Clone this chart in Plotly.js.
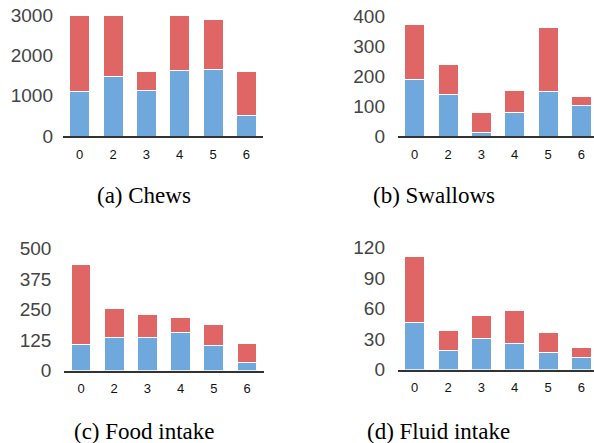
<!DOCTYPE html>
<html>
<head>
<meta charset="utf-8">
<script src="https://cdn.plot.ly/plotly-3.0.1.min.js"></script>
<style>html,body{margin:0;padding:0;background:#fff;}#chart{width:594px;height:443px;}</style>
</head>
<body>
<div id="chart"></div>
<script>
const categories = ['0', '2', '3', '4', '5', '6'];

const chewsBlue = [1100, 1470, 1140, 1630, 1660, 500];
const chewsTotal = [3000, 3000, 1610, 3000, 2900, 1610];

const swallowsBlue = [190, 140, 12, 78, 148, 103];
const swallowsTotal = [372, 240, 77, 153, 363, 132];

const foodBlue = [108, 134, 134, 158, 102, 34];
const foodTotal = [435, 255, 230, 218, 187, 112];

const fluidBlue = [46, 19, 30, 26, 17, 11.6];
const fluidTotal = [111, 38, 53, 57.5, 36.5, 21.8];

const captions = ['(a) Chews', '(b) Swallows', '(c) Food intake', '(d) Fluid intake'];
const yTicks = [[0, 1000, 2000, 3000], [0, 100, 200, 300, 400], [0, 125, 250, 375, 500], [0, 30, 60, 90, 120]];
const yMax = [3000, 400, 500, 120];

const BLUE = '#6fa8dc', RED = '#e06666';
const panels = [
  {blue: chewsBlue, total: chewsTotal},
  {blue: swallowsBlue, total: swallowsTotal},
  {blue: foodBlue, total: foodTotal},
  {blue: fluidBlue, total: fluidTotal}
];

const traces = [];
panels.forEach((p, i) => {
  const ax = i === 0 ? '' : String(i + 1);
  const red = p.total.map((t, k) => t - p.blue[k]);
  traces.push({type: 'bar', x: categories, y: p.blue, xaxis: 'x' + ax, yaxis: 'y' + ax,
    marker: {color: BLUE, line: {color: '#ffffff', width: 1}}, hoverinfo: 'y'});
  traces.push({type: 'bar', x: categories, y: red, xaxis: 'x' + ax, yaxis: 'y' + ax,
    marker: {color: RED, line: {color: '#ffffff', width: 1}}, hoverinfo: 'y'});
});

const H = 443, W = 594;
const xDom = [[63 / W, 263 / W], [398 / W, 1], [64.4 / W, 263.6 / W], [398 / W, 1]];
const xRng = [[-0.5, 5.5], [-0.5, 5.38], [-0.5, 5.5], [-0.5, 5.38]];
const yDom = [[(H - 136) / H, (H - 15) / H], [(H - 136) / H, (H - 16) / H],
              [(H - 370.7) / H, (H - 248.3) / H], [(H - 369.5) / H, (H - 247.3) / H]];
const yStand = [9, 12, 12, 12];

const layout = {
  width: W, height: H,
  margin: {l: 0, r: 0, t: 0, b: 0},
  paper_bgcolor: '#ffffff', plot_bgcolor: 'rgba(0,0,0,0)',
  barmode: 'stack', bargap: 0.4, showlegend: false,
  annotations: []
};

for (let i = 0; i < 4; i++) {
  const ax = i === 0 ? '' : String(i + 1);
  layout['xaxis' + ax] = {
    domain: xDom[i], range: xRng[i], type: 'category', anchor: 'y' + ax,
    showgrid: false, zeroline: false, showline: true, linecolor: '#333333', linewidth: 2,
    ticks: '', ticklabelstandoff: 5,
    tickfont: {family: 'Liberation Sans, Arial, sans-serif', size: 13, color: '#111111'},
    fixedrange: true
  };
  layout['yaxis' + ax] = {
    domain: yDom[i], range: [0, yMax[i]], anchor: 'x' + ax,
    tickmode: 'array', tickvals: yTicks[i], ticktext: yTicks[i].map(String),
    showgrid: false, zeroline: false, showline: false, ticks: '',
    ticklabelstandoff: yStand[i],
    tickfont: {family: 'Liberation Sans, Arial, sans-serif', size: 19, color: '#444444'},
    fixedrange: true
  };
}

const capPos = [[144, 195], [434, 195], [144, 431.7], [438.5, 431.7]];
captions.forEach((c, i) => {
  layout.annotations.push({
    text: c, xref: 'paper', yref: 'paper',
    x: capPos[i][0] / W, y: (H - capPos[i][1]) / H,
    xanchor: 'center', yanchor: 'middle', showarrow: false,
    font: {family: 'Liberation Serif, Times New Roman, serif', size: 23, color: '#000000'}
  });
});

Plotly.newPlot('chart', traces, layout, {displayModeBar: false, staticPlot: true});
</script>
</body>
</html>
